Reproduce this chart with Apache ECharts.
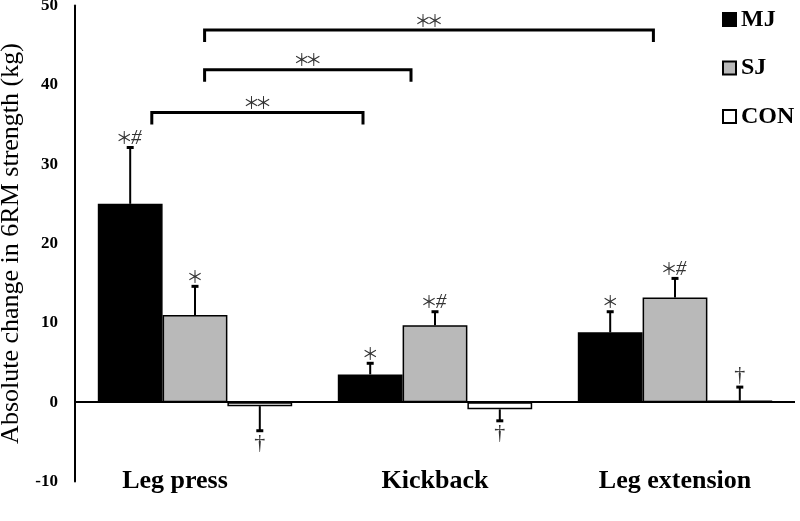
<!DOCTYPE html>
<html>
<head>
<meta charset="utf-8">
<script src="https://cdn.jsdelivr.net/npm/echarts@6/dist/echarts.min.js"></script>
<style>html,body{margin:0;padding:0;background:#fff}#c{width:800px;height:521px}</style>
</head>
<body>
<div id="c"></div>
<script>
// ---- data ----
const categories = ['Leg press', 'Kickback', 'Leg extension'];
const seriesNames = ['MJ', 'SJ', 'CON'];
const mjValues = [25.0, 3.5, 8.8];
const sjValues = [11.0, 9.7, 13.2];
const conValues = [-0.5, -0.9, 0.2];
const mjErrors = [7.1, 1.4, 2.6];
const sjErrors = [3.6, 1.7, 2.4];
const conErrors = [3.1, 1.45, 1.7];
const mjMarks = ['*#', '*', '*'];
const sjMarks = ['*', '*#', '*#'];
const conMarks = ['\u2020', '\u2020', '\u2020'];
const yTicks = [-10, 0, 10, 20, 30, 40, 50];
// brackets: [start (category units), end (category units), height (kg)]
const bracketStarts = [0.04, 0.04, -0.18];
const bracketEnds = [1.91, 0.90, 0.70];
const bracketHeights = [46.9, 41.9, 36.5];
const bracketLabels = ['**', '**', '**'];

const FONT = "'Liberation Serif', 'Times New Roman', serif";
const STAR_FONT = "'Noto Sans CJK JP', 'Noto Sans CJK SC', sans-serif";
const colors = ['#000000', '#b9b9b9', '#ffffff'];
const values = [mjValues, sjValues, conValues];
const errors = [mjErrors, sjErrors, conErrors];
const marks = [mjMarks, sjMarks, conMarks];
const BAR_FRAC = 0.27;

const chart = echarts.init(document.getElementById('c'), null, {renderer: 'canvas'});

// one text element per symbol, centred on (cx, cy)
const GLYPHS = {
  '*': {text: '\uFF0A', font: '17px ' + STAR_FONT, adv: 12, dy: 0},
  '#': {text: '#', font: 'italic 21px ' + FONT, adv: 12, dy: 1},
  '\u2020': {text: '\u2020', font: '22px ' + FONT, adv: 10, dy: 0}
};
function markElements(str, cx, cy) {
  const chars = Array.from(str);
  const total = chars.reduce((a, c) => a + GLYPHS[c].adv, 0);
  let x = cx - total / 2;
  return chars.map(c => {
    const g = GLYPHS[c];
    const el = {type: 'text', x: x + g.adv / 2, y: cy + g.dy,
      style: {text: g.text, font: g.font, fill: '#333', align: 'center', verticalAlign: 'middle'}};
    x += g.adv;
    return el;
  });
}

function errorSeries(si) {
  return {
    type: 'custom',
    xAxisIndex: 0,
    yAxisIndex: 0,
    z: 5,
    silent: true,
    data: values[si].map((v, i) => [i, v, errors[si][i]]),
    renderItem: function (params, api) {
      const idx = api.value(0), v = api.value(1), e = api.value(2);
      const sign = v >= 0 ? 1 : -1;
      const band = api.size([1, 0])[0];
      const base = api.coord([idx, v]);
      const tip = api.coord([idx, v + sign * e]);
      const x = base[0] + (si - 1) * BAR_FRAC * band;
      const txt = marks[si][params.dataIndex];
      const off = txt === '\u2020' ? 12 : 10;
      const cy = sign > 0 ? tip[1] - off : tip[1] + off;
      return {
        type: 'group',
        children: [
          {type: 'line', shape: {x1: x, y1: base[1], x2: x, y2: tip[1]}, style: {stroke: '#000', lineWidth: 2}},
          {type: 'line', shape: {x1: x - 3.5, y1: tip[1], x2: x + 3.5, y2: tip[1]}, style: {stroke: '#000', lineWidth: 3}},
          ...markElements(txt, x, cy)
        ]
      };
    }
  };
}

const barSeries = seriesNames.map((name, si) => ({
  name: name,
  type: 'bar',
  data: values[si],
  barWidth: (BAR_FRAC * 100) + '%',
  barGap: '0%',
  itemStyle: {color: colors[si], borderColor: '#000', borderWidth: 1.5},
  silent: true,
  markLine: si === 0 ? {
    silent: true, symbol: 'none', label: {show: false},
    lineStyle: {color: '#000', width: 2, type: 'solid'},
    data: [{yAxis: 0}], z: 10
  } : undefined
}));

const bracketSeries = {
  type: 'custom',
  xAxisIndex: 1,
  yAxisIndex: 0,
  silent: true,
  data: bracketStarts.map((s, i) => [s, bracketEnds[i], bracketHeights[i]]),
  renderItem: function (params, api) {
    const p1 = api.coord([api.value(0), api.value(2)]);
    const p2 = api.coord([api.value(1), api.value(2)]);
    const drop = api.size([0, 1.5])[1];
    return {
      type: 'group',
      children: [
        {type: 'polyline', shape: {points: [[p1[0], p1[1] + drop], [p1[0], p1[1]], [p2[0], p2[1]], [p2[0], p2[1] + drop]]},
          style: {stroke: '#000', lineWidth: 3, fill: null}},
        ...markElements(bracketLabels[params.dataIndex], (p1[0] + p2[0]) / 2, p1[1] - 10)
      ]
    };
  }
};

chart.setOption({
  animation: false,
  backgroundColor: '#fff',
  grid: {left: 75, right: 5, top: 5.5, bottom: 39.5, containLabel: false, outerBoundsMode: 'none'},
  legend: {
    orient: 'vertical', left: 717, top: 2.5, itemWidth: 13, itemHeight: 13, itemGap: 24.5,
    icon: 'rect', data: seriesNames,
    textStyle: {fontFamily: FONT, fontWeight: 'bold', fontSize: 24, color: '#000'}
  },
  xAxis: [
    {type: 'category',
      data: categories.map((c, i) => i === 0 ? {value: c, textStyle: {padding: [0, 40, 0, 0]}} : c),
      axisLine: {show: false, onZero: false}, axisTick: {show: false},
      axisLabel: {margin: -13, fontFamily: FONT, fontWeight: 'bold', fontSize: 26, color: '#000'}},
    {type: 'value', min: -0.5, max: 2.5, show: false}
  ],
  yAxis: {
    type: 'value', min: yTicks[0], max: yTicks[yTicks.length - 1], interval: 10,
    name: 'Absolute change in 6RM strength (kg)', nameLocation: 'middle', nameGap: 46,
    nameTextStyle: {fontFamily: FONT, fontSize: 26, color: '#000'},
    axisLine: {show: true, onZero: false, lineStyle: {color: '#000', width: 2}},
    axisTick: {show: false}, splitLine: {show: false},
    axisLabel: {margin: 17, fontFamily: FONT, fontWeight: 'bold', fontSize: 17, color: '#000'}
  },
  series: [...barSeries, errorSeries(0), errorSeries(1), errorSeries(2), bracketSeries]
});
</script>
</body>
</html>
